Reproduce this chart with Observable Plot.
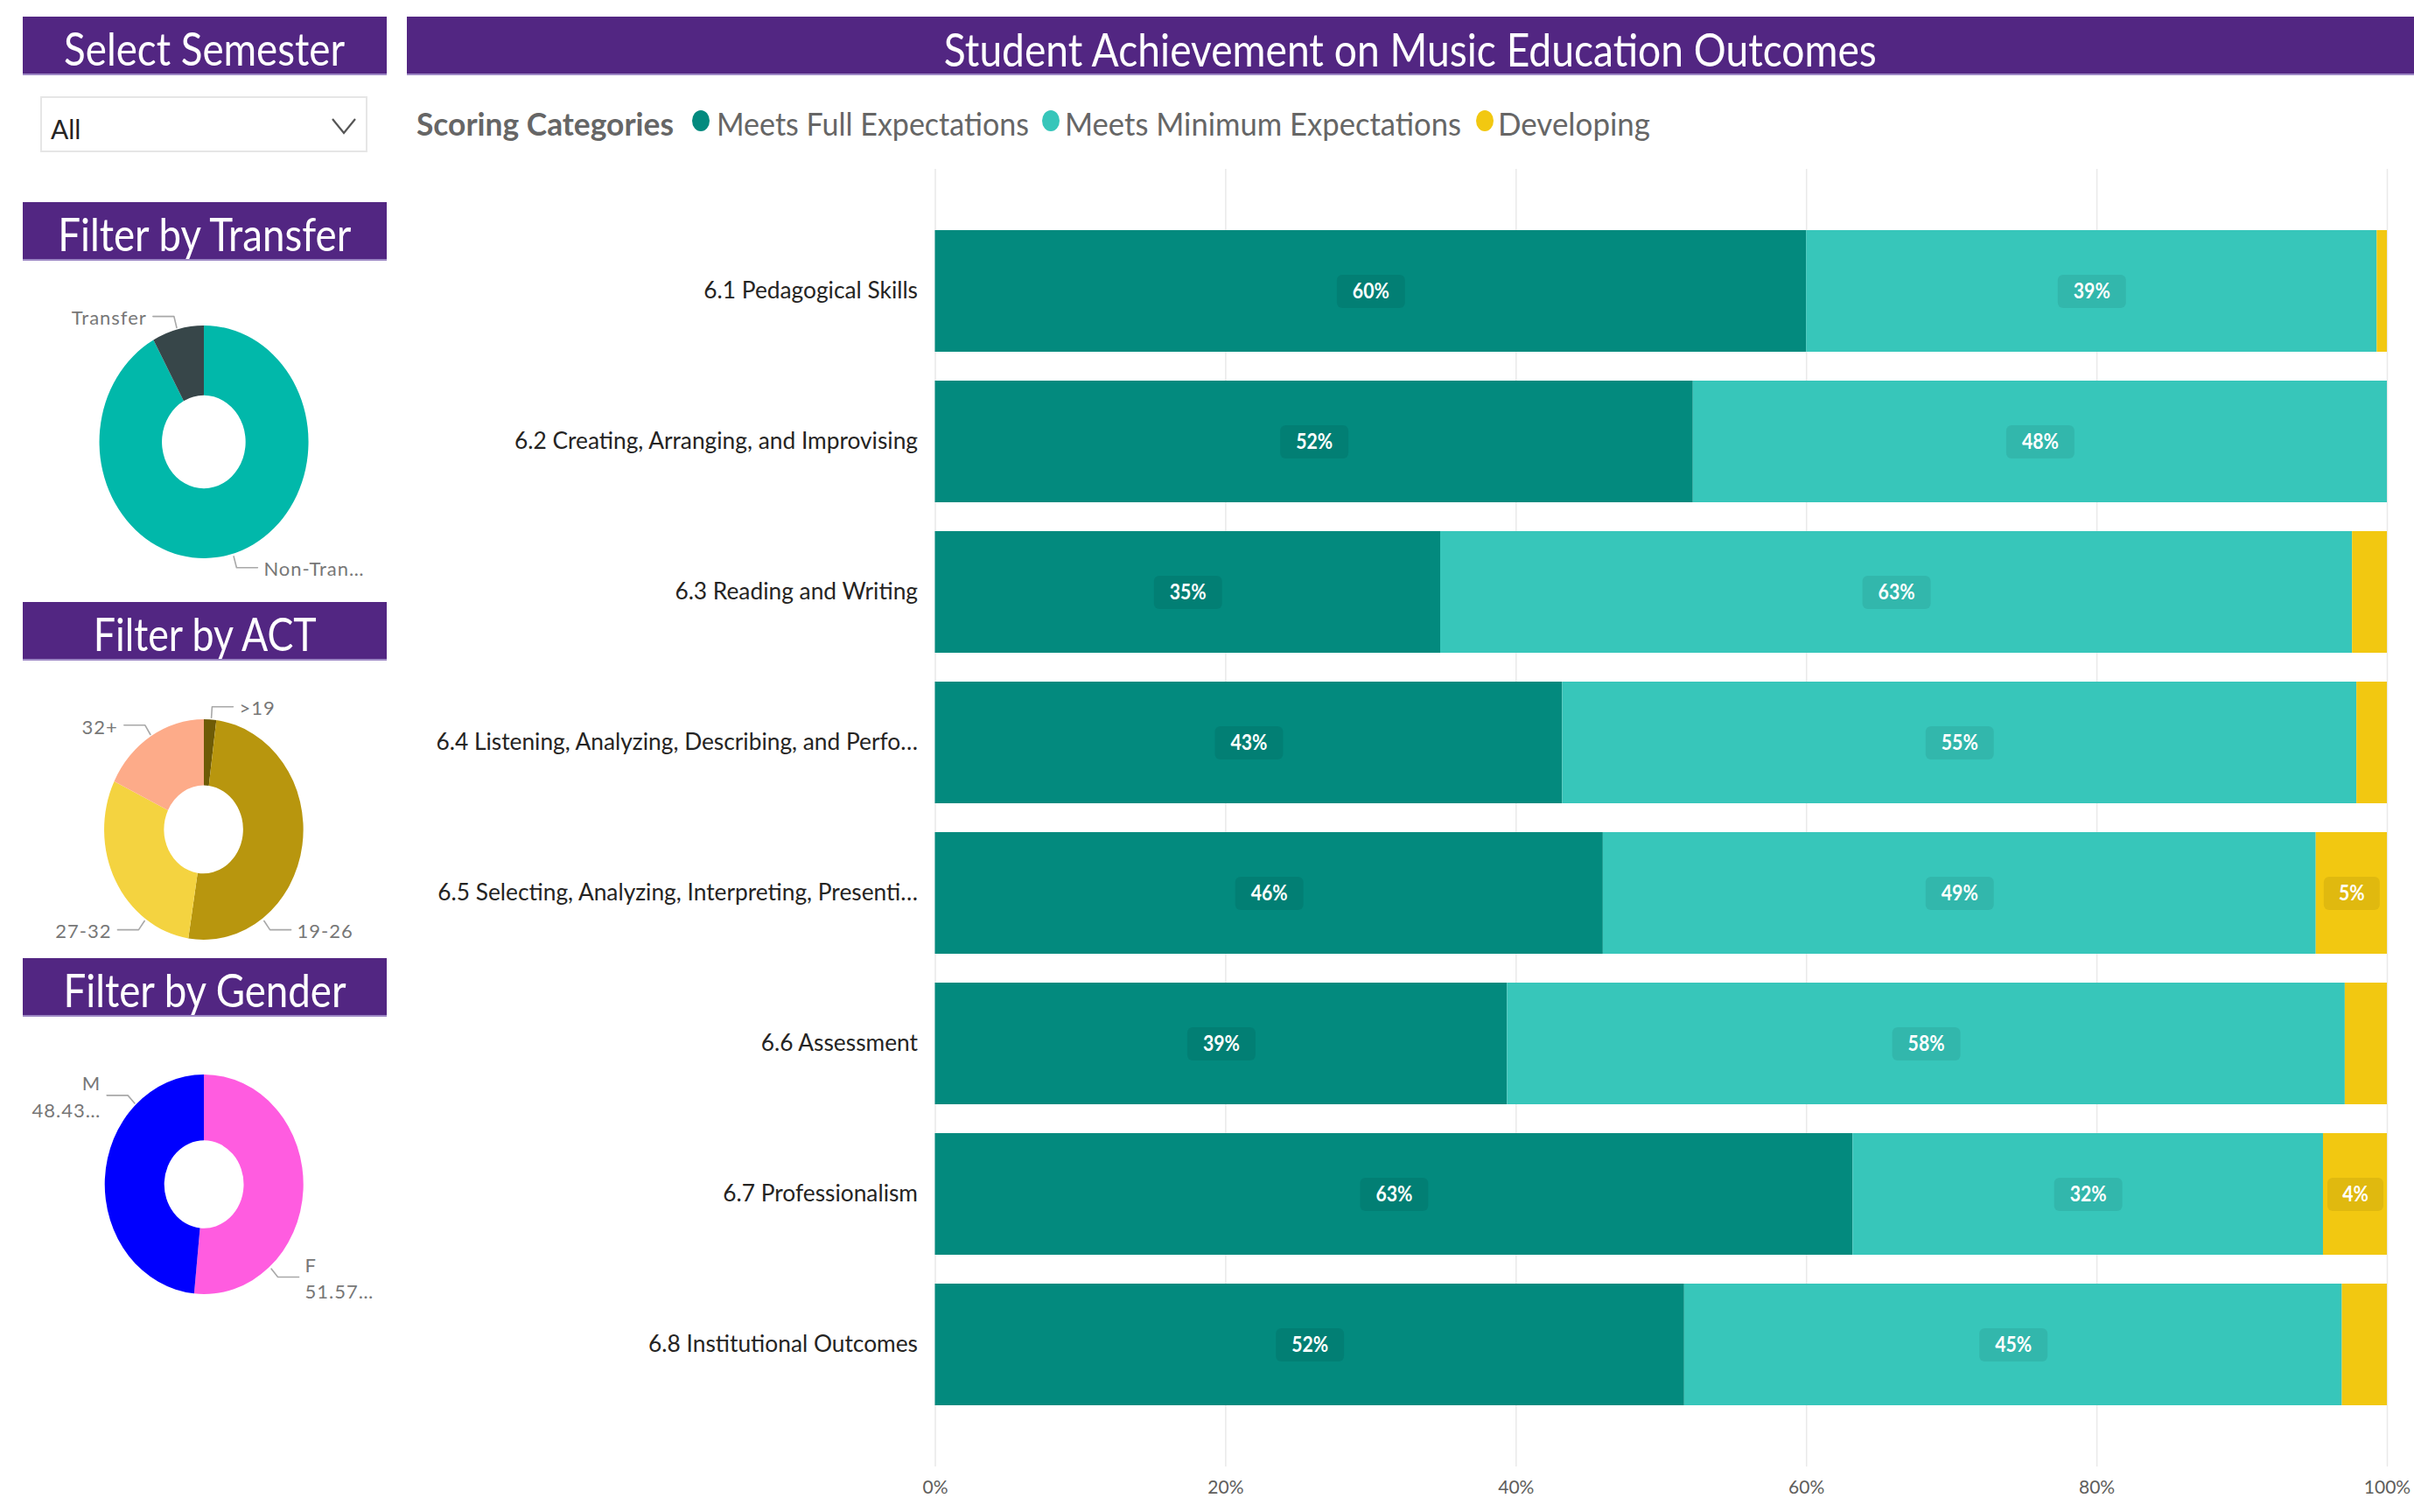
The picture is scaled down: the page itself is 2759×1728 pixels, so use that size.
<!DOCTYPE html>
<html>
<head>
<meta charset="utf-8">
<script src="https://cdn.jsdelivr.net/npm/d3@7"></script>
<script src="https://cdn.jsdelivr.net/npm/@observablehq/plot@0.6"></script>
<style>
  html, body { margin: 0; padding: 0; background: #ffffff; }
  #root { position: relative; width: 2759px; height: 1728px; overflow: hidden; font-family: Lato, "Open Sans", sans-serif; }
  .hdr { position: absolute; background: #522682; color: #ffffff; display: flex; align-items: center; justify-content: center;
         box-sizing: border-box; border-bottom: 2px solid #9c87c4; padding-top: 7px; overflow: hidden; }
  .hdr span { display: inline-block; white-space: nowrap; line-height: 1; }
  .abs { position: absolute; }
  .leg { position: absolute; white-space: nowrap; line-height: 1; font-size: 36px; color: #666666; transform-origin: left center; }
  .dot { position: absolute; border-radius: 50%; }
</style>
</head>
<body>
<div id="root"></div>
<script>
// ------------------------- DATA -------------------------
const semesterOptions = ["All"];

const transferNames = ["Non-Transfer", "Transfer"];
const transferValues = [92, 8];

const actNames = [">19", "19-26", "27-32", "32+"];
const actValues = [2.0, 50.5, 29.7, 17.8];

const genderNames = ["F", "M"];
const genderValues = [51.57, 48.43];

const outcomes = [
  "6.1 Pedagogical Skills",
  "6.2 Creating, Arranging, and Improvising",
  "6.3 Reading and Writing",
  "6.4 Listening, Analyzing, Describing, and Perfo…",
  "6.5 Selecting, Analyzing, Interpreting, Presenti…",
  "6.6 Assessment",
  "6.7 Professionalism",
  "6.8 Institutional Outcomes"
];
const scoringCategories = ["Meets Full Expectations", "Meets Minimum Expectations", "Developing"];
const meetsFull    = [60.0, 52.2, 34.8, 43.2, 46.0, 39.4, 63.2, 51.6];
const meetsMinimum = [39.3, 47.8, 62.8, 54.7, 49.1, 57.7, 32.4, 45.3];
const developing   = [0.7,  0.0,  2.4,  2.1,  4.9,  2.9,  4.4,  3.1];
const xTicks = [0, 20, 40, 60, 80, 100];

// ------------------------- STYLE -------------------------
const catColors = ["#038A7E", "#37C6BA", "#F2C811"];
const transferColors = ["#01B8AA", "#374649"];
const actColors = ["#6E5B06", "#B8960E", "#F4D340", "#FDAB89"];
const genderColors = ["#FF5CE0", "#0000FF"];

const root = document.getElementById("root");

function header(text, left, top, width, height, fontSize, targetWidth) {
  const d = document.createElement("div");
  d.className = "hdr";
  Object.assign(d.style, { left: left + "px", top: top + "px", width: width + "px", height: height + "px" });
  const s = document.createElement("span");
  s.textContent = text;
  s.style.fontSize = fontSize + "px";
  d.appendChild(s);
  root.appendChild(d);
  const w = s.getBoundingClientRect().width;
  if (w > 0) s.style.transform = `scaleX(${targetWidth / w})`;
}

header("Select Semester", 26, 19, 416, 67, 52, 321);
header("Filter by Transfer", 26, 231, 416, 67, 52, 335);
header("Filter by ACT", 26, 688, 416, 67, 52, 255);
header("Filter by Gender", 26, 1095, 416, 67, 52, 323);
header("Student Achievement on Music Education Outcomes", 465, 19, 2294, 67, 53, 1066);

// dropdown
const dd = document.createElement("div");
dd.className = "abs";
Object.assign(dd.style, { left: "46px", top: "110px", width: "374px", height: "64px", border: "2px solid #e6e6e6", boxSizing: "border-box", background: "#fff" });
root.appendChild(dd);
const ddText = document.createElement("div");
ddText.className = "abs";
ddText.textContent = semesterOptions[0];
Object.assign(ddText.style, { left: "58px", top: "132px", fontSize: "30px", lineHeight: "1", color: "#252423" });
root.appendChild(ddText);
const chev = document.createElementNS("http://www.w3.org/2000/svg", "svg");
chev.setAttribute("width", "40"); chev.setAttribute("height", "30");
chev.setAttribute("class", "abs");
chev.style.left = "373px"; chev.style.top = "129px";
chev.innerHTML = '<polyline points="7,7 20,23 33,7" fill="none" stroke="#555" stroke-width="2.2"/>';
root.appendChild(chev);

// legend
function legText(text, left, top, target, bold) {
  const s = document.createElement("div");
  s.className = "leg";
  s.textContent = text;
  s.style.left = left + "px"; s.style.top = top + "px";
  if (bold) s.style.fontWeight = "700";
  root.appendChild(s);
  const w = s.getBoundingClientRect().width;
  if (w > 0) s.style.transform = `scaleX(${target / w})`;
}
function legDot(cx, cy, color) {
  const d = document.createElement("div");
  d.className = "dot";
  Object.assign(d.style, { left: (cx - 10) + "px", top: (cy - 12) + "px", width: "20px", height: "24px", background: color });
  root.appendChild(d);
}
legText("Scoring Categories", 476, 123, 294, true);
const legPos = [{dot: 801, text: 819, w: 357}, {dot: 1201, text: 1217, w: 453}, {dot: 1697, text: 1712, w: 174}];
scoringCategories.forEach((c, i) => {
  legDot(legPos[i].dot, 138, catColors[i]);
  legText(c, legPos[i].text, 123, legPos[i].w, false);
});

// ------------------------- DONUTS -------------------------
function donutPlot({names, values, colors, top, height, cx, cy, rx, ry, inner, angles, labelText}) {
  const slices = names.map((n, i) => ({name: n, value: values[i], color: colors[i]}));
  const arcs = d3.pie().sort(null).value(d => d.value)(slices);
  const arcGen = d3.arc().innerRadius(inner).outerRadius(1);
  const leaderPts = [], labels = [];
  slices.forEach((s, i) => {
    const a = angles[i] * Math.PI / 180;
    const ux = Math.sin(a), uy = -Math.cos(a);
    const side = ux >= 0 ? 1 : -1;
    const p1x = 1.12 * ux, p1y = 1.12 * uy;
    const p2x = p1x + side * 24 / rx;
    leaderPts.push({id: i, x: 1.02 * ux, y: 1.02 * uy}, {id: i, x: p1x, y: p1y}, {id: i, x: p2x, y: p1y});
    labels.push({x: p2x + side * 7 / rx, y: p1y, side, text: labelText(s)});
  });
  const sliceMark = (index, scales) => {
    const x0 = scales.x(0), y0 = scales.y(0);
    const sx = scales.x(1) - x0, sy = scales.y(1) - y0;
    const g = d3.create("svg:g").attr("transform", `translate(${x0},${y0}) scale(${sx},${sy})`);
    g.selectAll("path").data(arcs).join("path").attr("d", arcGen).attr("fill", d => d.data.color);
    return g.node();
  };
  const svg = Plot.plot({
    width: 460, height,
    x: {domain: [-1, 1], range: [cx - rx, cx + rx], axis: null},
    y: {domain: [-1, 1], range: [cy - ry, cy + ry], axis: null},
    style: {fontFamily: "Lato, sans-serif", fontSize: "22px", color: "#777777", overflow: "visible", background: "transparent", letterSpacing: "1px"},
    marks: [
      sliceMark,
      Plot.line(leaderPts, {x: "x", y: "y", z: "id", stroke: "#a8a8a8", strokeWidth: 1.6}),
      Plot.text(labels.filter(d => d.side < 0), {x: "x", y: "y", text: "text", textAnchor: "end", fill: "#777777", lineHeight: 1.38}),
      Plot.text(labels.filter(d => d.side > 0), {x: "x", y: "y", text: "text", textAnchor: "start", fill: "#777777", lineHeight: 1.38})
    ]
  });
  svg.style.position = "absolute";
  svg.style.left = "0px";
  svg.style.top = top + "px";
  root.appendChild(svg);
}

const truncate = s => s.name.length > 10 ? s.name.slice(0, 8) + "…" : s.name;

donutPlot({names: transferNames, values: transferValues, colors: transferColors,
  top: 298, height: 390, cx: 233, cy: 505 - 298, rx: 119.5, ry: 133, inner: 0.4,
  angles: [164, 345], labelText: truncate});

donutPlot({names: actNames, values: actValues, colors: actColors,
  top: 755, height: 340, cx: 233, cy: 948 - 755, rx: 114, ry: 126, inner: 0.4,
  angles: [4, 144, 216, 328], labelText: truncate});

donutPlot({names: genderNames, values: genderValues, colors: genderColors,
  top: 1162, height: 400, cx: 233, cy: 1353.5 - 1162, rx: 113.5, ry: 125.5, inner: 0.4,
  angles: [138.6, 316.6], labelText: s => s.name + "\n" + s.value.toFixed(2) + "…"});

// ------------------------- BAR CHART -------------------------
const rows = outcomes.flatMap((o, i) => [
  {outcome: o, category: scoringCategories[0], value: meetsFull[i]},
  {outcome: o, category: scoringCategories[1], value: meetsMinimum[i]},
  {outcome: o, category: scoringCategories[2], value: developing[i]}
]);
const showLabel = d => d.value >= 3.5;
const labelOf = d => Math.round(d.value) + "%";

const roundRect = {
  draw(ctx, size) {
    const hw = Math.sqrt(size / Math.PI), hh = 19, rr = 6;
    ctx.moveTo(-hw + rr, -hh);
    ctx.lineTo(hw - rr, -hh);
    ctx.arcTo(hw, -hh, hw, -hh + rr, rr);
    ctx.lineTo(hw, hh - rr);
    ctx.arcTo(hw, hh, hw - rr, hh, rr);
    ctx.lineTo(-hw + rr, hh);
    ctx.arcTo(-hw, hh, -hw, hh - rr, rr);
    ctx.lineTo(-hw, -hh + rr);
    ctx.arcTo(-hw, -hh, -hw + rr, -hh, rr);
    ctx.closePath();
  }
};

const bar = Plot.plot({
  width: 2294, height: 1558,
  marginLeft: 603.5, marginRight: 31, marginTop: 23, marginBottom: 52,
  style: {fontFamily: "Lato, sans-serif", fontSize: "26px", color: "#252423", background: "transparent", overflow: "visible"},
  x: {domain: [0, 100], ticks: xTicks, tickFormat: d => d + "%", tickSize: 0, tickPadding: 16, label: null},
  y: {domain: outcomes, paddingInner: 0.192, paddingOuter: 0.406, tickSize: 0, tickPadding: 20, label: null},
  color: {domain: scoringCategories, range: catColors},
  r: {type: "identity"},
  marks: [
    Plot.ruleX(xTicks, {stroke: "#e9e9e9", strokeWidth: 1.5}),
    Plot.barX(rows, Plot.stackX({x: "value", y: "outcome", fill: "category", z: "category", order: scoringCategories})),
    Plot.dot(rows, Plot.stackX({x: "value", y: "outcome", z: "category", order: scoringCategories,
      r: d => showLabel(d) ? (labelOf(d).length >= 3 ? 39 : 32) : 0,
      symbol: roundRect, fill: "black", fillOpacity: 0.075, stroke: "none"})),
    Plot.text(rows, Plot.stackX({x: "value", y: "outcome", z: "category", order: scoringCategories,
      text: d => showLabel(d) ? labelOf(d) : null,
      fill: "white", fontWeight: "bold", fontSize: 24}))
  ]
});
bar.style.position = "absolute";
bar.style.left = "465px";
bar.style.top = "170px";
root.appendChild(bar);

// typography adjustments
bar.querySelectorAll('[aria-label^="x-axis"] text').forEach(t => {
  t.setAttribute("font-size", "21");
  t.style.fontSize = "21px";
  t.style.fill = "#605E5C";
});
const yTexts = Array.from(bar.querySelectorAll('[aria-label^="y-axis"] text'));
const ref = yTexts.find(t => t.textContent.startsWith("6.2"));
if (ref) {
  const f = 461 / ref.getComputedTextLength();
  yTexts.forEach(t => {
    const w = t.getComputedTextLength();
    if (w > 0) { t.setAttribute("textLength", (w * f).toFixed(1)); t.setAttribute("lengthAdjust", "spacingAndGlyphs"); }
  });
}
const valTexts = Array.from(bar.querySelectorAll('g[aria-label="text"] text'));
const ref2 = valTexts.find(t => t.textContent.length === 3);
if (ref2) {
  const f2 = 42 / ref2.getComputedTextLength();
  valTexts.forEach(t => {
    const w = t.getComputedTextLength();
    if (w > 0) { t.setAttribute("textLength", (w * f2).toFixed(1)); t.setAttribute("lengthAdjust", "spacingAndGlyphs"); }
  });
}
</script>
</body>
</html>
